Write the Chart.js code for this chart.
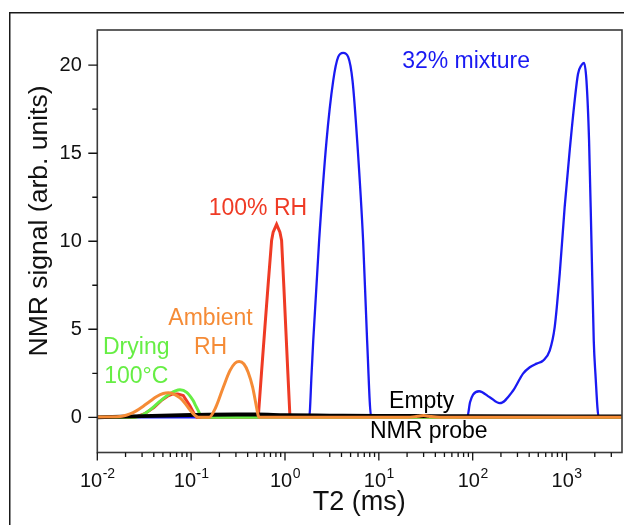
<!DOCTYPE html>
<html>
<head>
<meta charset="utf-8">
<script src="https://cdn.jsdelivr.net/npm/chart.js@4.4.0/dist/chart.umd.min.js"></script>
<style>
  html, body { margin: 0; padding: 0; background: #fff; }
  canvas { display: block; }
</style>
</head>
<body>
<canvas id="nmrChart" width="624" height="525"></canvas>
<script>
/** T2 distributions, x in ms, y in arb. units */
const ambientX = [0.01, 0.0175, 0.0223, 0.0263, 0.0309, 0.0364, 0.043, 0.0505, 0.057, 0.0645, 0.076, 0.086, 0.097, 0.11, 0.119, 0.155, 0.183, 0.22, 0.259, 0.293, 0.325, 0.365, 0.405, 0.452, 0.49, 0.518, 0.53, 20, 26, 30, 34, 45, 4000];
const ambientY = [0.02, 0.04, 0.19, 0.38, 0.63, 0.91, 1.18, 1.35, 1.39, 1.33, 1.10, 0.80, 0.42, 0.1, 0, 0, 0.57, 1.71, 2.65, 3.07, 3.17, 3.03, 2.56, 1.71, 0.76, 0.1, 0, 0, 0.06, 0.1, 0.06, 0, 0];

const humidX = [0.01, 0.025, 0.032, 0.04, 0.048, 0.056, 0.064, 0.072, 0.0824, 0.097, 0.108, 0.115, 0.519, 0.564, 0.611, 0.662, 0.72, 0.748, 0.814, 0.883, 0.92, 0.973, 1.022, 1.074, 1.13, 4000];
const humidY = [0, 0, 0.2, 0.55, 0.95, 1.2, 1.33, 1.33, 1.23, 0.66, 0.19, 0, 0, 2.65, 5.12, 7.58, 10.05, 10.52, 10.96, 10.52, 10.05, 7.39, 4.93, 2.47, 0, 0];

const dryingX = [0.01, 0.025, 0.03, 0.035, 0.042, 0.05, 0.06, 0.068, 0.076, 0.0896, 0.105, 0.112, 0.119, 0.125, 0.13, 4000];
const dryingY = [0, 0, 0.12, 0.35, 0.7, 1.05, 1.35, 1.5, 1.56, 1.42, 0.95, 0.65, 0.38, 0.12, 0, 0];

const emptyX = [0.01, 0.03, 0.1, 0.3, 0.5, 1, 3, 10, 40, 100, 1000, 4000];
const emptyY = [0.0, 0.07, 0.13, 0.16, 0.16, 0.12, 0.1, 0.08, 0.07, 0.06, 0.05, 0.05];

const mixtureX = [0.01, 1.81, 1.92, 2.0, 2.31, 2.77, 3.26, 3.69, 4.17, 4.71, 5.25, 5.88, 6.8, 7.5, 8.3, 87.5, 93.7, 101, 117, 152, 194, 270, 344, 406, 480, 562, 662, 748, 846, 955, 1081, 1222, 1325, 1441, 1535, 1630, 1738, 1842, 1950, 2032, 2203, 4000];
const mixtureY = [0, 0, 2.47, 4.36, 10.03, 15.7, 19.1, 20.47, 20.7, 20.47, 19.1, 15.7, 10.03, 4.36, 0, 0, 0.85, 1.29, 1.48, 1.14, 0.8, 1.52, 2.48, 2.84, 3.05, 3.22, 3.79, 5.12, 8.15, 11.94, 15.16, 18.0, 19.5, 20.0, 20.13, 19.14, 15.73, 10.05, 4.36, 2.47, 0, 0];

/** axis ticks */
const xDecades = [0.01, 0.1, 1, 10, 100, 1000];
const xExponents = ["-2", "-1", "0", "1", "2", "3"];
const xMinorSteps = [2, 3, 4, 5, 6, 7, 8, 9];
const yMajor = [0, 5, 10, 15, 20];
const yMinor = [2.5, 7.5, 12.5, 17.5];

/** text in the plot, anchored in data units */
const notes = [
  { text: "32% mixture", x: 85, y: 19.84, color: "#1a1af2" },
  { text: "100% RH", x: 0.515, y: 11.49, color: "#ef3b25" },
  { text: "Ambient", x: 0.161, y: 5.24, color: "#f58b36" },
  { text: "RH", x: 0.161, y: 3.59, color: "#f58b36" },
  { text: "Drying", x: 0.026, y: 3.59, color: "#66ee44" },
  { text: "100°C", x: 0.026, y: 1.93, color: "#66ee44" },
  { text: "Empty", x: 28.6, y: 0.51, color: "#000" },
  { text: "NMR probe", x: 34, y: -1.18, color: "#000" },
];

const FONT = "'Liberation Sans', Arial, sans-serif";

const toPoints = (xs, ys) => xs.map((x, i) => ({ x: x, y: ys[i] }));

const curve = (label, xs, ys, color, width, smooth = true) => ({
  label: label,
  data: toPoints(xs, ys),
  borderColor: color,
  borderWidth: width,
  pointRadius: 0,
  fill: false,
  tension: 0,
  cubicInterpolationMode: smooth ? "monotone" : "default",
});

/**
 * draws the frames, ticks, tick labels, axis titles and notes
 */
const decor = {
  id: "decor",
  beforeDraw(chart) {
    const c = chart.ctx;
    c.save();
    c.fillStyle = "#fff";
    c.fillRect(0, 0, chart.width, chart.height);
    c.restore();
  },
  afterDraw(chart) {
    const c = chart.ctx;
    const a = chart.chartArea;
    const sx = chart.scales.x;
    const sy = chart.scales.y;
    c.save();

    // outer frame
    c.strokeStyle = "#1a1a1a";
    c.lineWidth = 1.5;
    c.beginPath();
    c.moveTo(9.75, chart.height);
    c.lineTo(9.75, 12.75);
    c.lineTo(chart.width, 12.75);
    c.stroke();

    // plot box
    c.strokeStyle = "#3a3a3a";
    c.lineWidth = 1.6;
    c.strokeRect(a.left, a.top, a.right - a.left, a.bottom - a.top);

    // tick marks
    c.strokeStyle = "#111";
    c.lineWidth = 1.3;
    c.beginPath();
    xDecades.forEach((d) => {
      const p = sx.getPixelForValue(d);
      c.moveTo(p, a.bottom);
      c.lineTo(p, a.bottom + 8);
      xMinorSteps.forEach((m) => {
        const v = d * m;
        if (v > sx.max) return;
        const q = sx.getPixelForValue(v);
        c.moveTo(q, a.bottom);
        c.lineTo(q, a.bottom + 4.5);
      });
    });
    yMajor.forEach((v) => {
      const p = sy.getPixelForValue(v);
      c.moveTo(a.left, p);
      c.lineTo(a.left - 9, p);
    });
    yMinor.forEach((v) => {
      const p = sy.getPixelForValue(v);
      c.moveTo(a.left, p);
      c.lineTo(a.left - 5, p);
    });
    c.stroke();

    // tick labels
    c.fillStyle = "#111";
    c.textBaseline = "middle";
    c.textAlign = "right";
    c.font = "20px " + FONT;
    yMajor.forEach((v) => c.fillText(String(v), a.left - 15.5, sy.getPixelForValue(v)));

    c.textBaseline = "alphabetic";
    c.textAlign = "left";
    xDecades.forEach((d, i) => {
      c.font = "20px " + FONT;
      const wb = c.measureText("10").width;
      c.font = "14px " + FONT;
      const we = c.measureText(xExponents[i]).width;
      const x0 = sx.getPixelForValue(d) - (wb + we) / 2;
      c.font = "20px " + FONT;
      c.fillText("10", x0, a.bottom + 34);
      c.font = "14px " + FONT;
      c.fillText(xExponents[i], x0 + wb + 0.5, a.bottom + 25);
    });

    // axis titles
    c.textAlign = "center";
    c.font = "27px " + FONT;
    c.fillText("T2 (ms)", (a.left + a.right) / 2 - 0.5, 510);
    c.save();
    c.translate(47, 221);
    c.rotate(-Math.PI / 2);
    c.font = "26.5px " + FONT;
    c.fillText("NMR signal (arb. units)", 0, 0);
    c.restore();

    // notes
    c.font = "23px " + FONT;
    notes.forEach((n) => {
      c.fillStyle = n.color;
      c.fillText(n.text, sx.getPixelForValue(n.x), sy.getPixelForValue(n.y));
    });

    c.restore();
  },
};

const ctx = document.getElementById("nmrChart").getContext("2d");
const nmrChart = new Chart(ctx, {
  type: "line",
  data: {
    // first dataset is drawn on top
    datasets: [
      curve("Ambient RH", ambientX, ambientY, "#f58b36", 3),
      curve("Empty NMR probe", emptyX, emptyY, "#000", 3.8),
      curve("Drying 100°C", dryingX, dryingY, "#66ee44", 3),
      curve("100% RH", humidX, humidY, "#ef3b25", 3, false),
      curve("32% mixture", mixtureX, mixtureY, "#1a1af2", 2.3),
    ],
  },
  options: {
    responsive: false,
    animation: false,
    layout: { padding: { top: 30, right: 2, left: 0, bottom: 0 } },
    plugins: {
      legend: { display: false },
      tooltip: { enabled: false },
    },
    scales: {
      x: {
        type: "logarithmic",
        min: 0.01,
        max: 3900,
        ticks: { display: false },
        grid: { display: false },
        border: { display: false },
        afterFit: (s) => { s.height = 72.5; },
      },
      y: {
        type: "linear",
        min: -2,
        max: 22,
        ticks: { display: false },
        grid: { display: false },
        border: { display: false },
        afterFit: (s) => { s.width = 97.3; },
      },
    },
  },
  plugins: [decor],
});
</script>
</body>
</html>
